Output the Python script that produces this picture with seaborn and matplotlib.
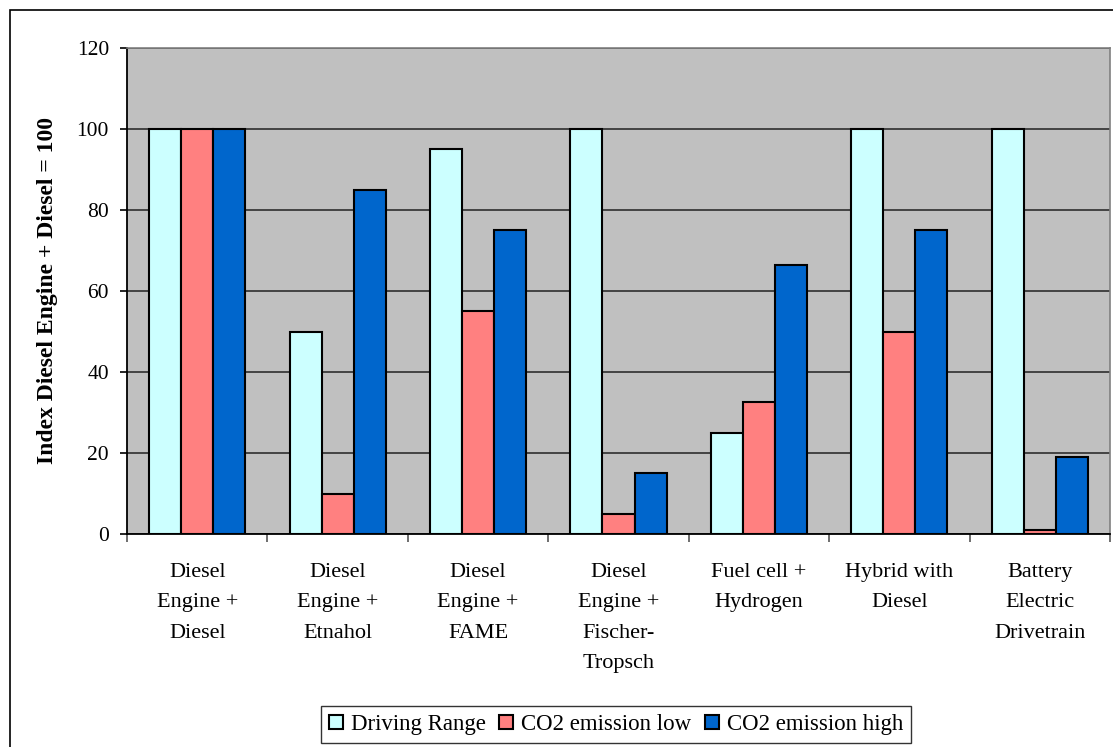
import matplotlib
matplotlib.use("Agg")
import matplotlib.pyplot as plt
from matplotlib.patches import Rectangle
import seaborn as sns
import pandas as pd

# Drivetrain / fuel combinations shown along the x axis
categories = [
    "Diesel\nEngine +\nDiesel",
    "Diesel\nEngine +\nEtnahol",
    "Diesel\nEngine +\nFAME",
    "Diesel\nEngine +\nFischer-\nTropsch",
    "Fuel cell +\nHydrogen",
    "Hybrid with\nDiesel",
    "Battery\nElectric\nDrivetrain",
]
series = ["Driving Range", "CO2 emission low", "CO2 emission high"]

driving_range = [100, 50, 95, 100, 25, 100, 100]
co2_low = [100, 10, 55, 5, 32.5, 50, 1]
co2_high = [100, 85, 75, 15, 66.5, 75, 19]

y_ticks = [0, 20, 40, 60, 80, 100, 120]
y_label = "Index Diesel Engine + Diesel = 100"

colors = ["#CCFFFF", "#FF8080", "#0066CC"]

df = pd.DataFrame({
    "category": categories * 3,
    "series": [s for s in series for _ in categories],
    "value": driving_range + co2_low + co2_high,
})

sns.set_style("white")
plt.rcParams["font.family"] = ["Liberation Serif", "DejaVu Serif"]
plt.rcParams.update({
    "text.color": "black",
    "axes.labelcolor": "black",
    "xtick.color": "black",
    "ytick.color": "black",
    "xtick.labelcolor": "black",
    "ytick.labelcolor": "black",
})

W, H = 1113, 747
fig = plt.figure(figsize=(W / 100, H / 100), dpi=100)
ax = fig.add_axes([127 / W, 1 - 534 / H, (1110 - 127) / W, (534 - 48) / H])
ax.set_facecolor("#C0C0C0")

sns.barplot(
    data=df, x="category", y="value", hue="series", order=categories,
    hue_order=series, palette=colors, width=0.684, gap=0,
    edgecolor="black", linewidth=1.5, saturation=1, errorbar=None, ax=ax,
)

ax.set_ylim(0, 120)
ax.set_xlim(-0.5, len(categories) - 0.5)
ax.set_yticks(y_ticks)
ax.yaxis.grid(True, color="#222222", linewidth=1.1)
ax.set_axisbelow(True)

# Category boundaries carry the tick marks; labels sit under the group centres
ax.set_xticks(range(len(categories)))
ax.set_xticklabels(categories, fontsize=16, linespacing=1.8, va="top",
                   color="black")
ax.tick_params(axis="x", which="major", length=0, pad=21)
ax.set_xticks([i - 0.5 for i in range(len(categories) + 1)], minor=True)
ax.tick_params(axis="x", which="minor", length=6, width=1.2, color="#555555",
               direction="out", bottom=True)
ax.tick_params(axis="y", length=5, width=1.2, color="black", direction="out",
               labelsize=15.5, labelcolor="black", pad=8, left=True)

ax.set_xlabel("")
ax.set_ylabel(y_label, fontsize=17, fontweight="bold", color="black")
ax.yaxis.set_label_coords(-0.070, 0.5)

for side in ["top", "right"]:
    ax.spines[side].set_visible(True)
    ax.spines[side].set_color("#808080")
    ax.spines[side].set_linewidth(1.2)
for side in ["left", "bottom"]:
    ax.spines[side].set_color("black")
    ax.spines[side].set_linewidth(1.3)

# Legend boxed below the chart, entries side by side
handles, labels = ax.get_legend_handles_labels()
ax.get_legend().remove()
leg = fig.legend(
    handles, labels, loc="center", bbox_to_anchor=(616 / W, 1 - 724.5 / H),
    ncol=3, fontsize=16.5, frameon=True, fancybox=False, edgecolor="black",
    handlelength=0.6, handleheight=0.6, handletextpad=0.35,
    columnspacing=0.6, borderpad=0.35, borderaxespad=0, labelcolor="black",
)
leg.get_frame().set_linewidth(1.0)
leg.get_frame().set_facecolor("white")

# Outer chart frame
fig.patches.append(Rectangle((10 / W, -0.01), 1.1, 1 - 10 / H + 0.01,
                             transform=fig.transFigure, fill=False,
                             edgecolor="black", linewidth=1.2))

fig.savefig("out.png", dpi=100)
